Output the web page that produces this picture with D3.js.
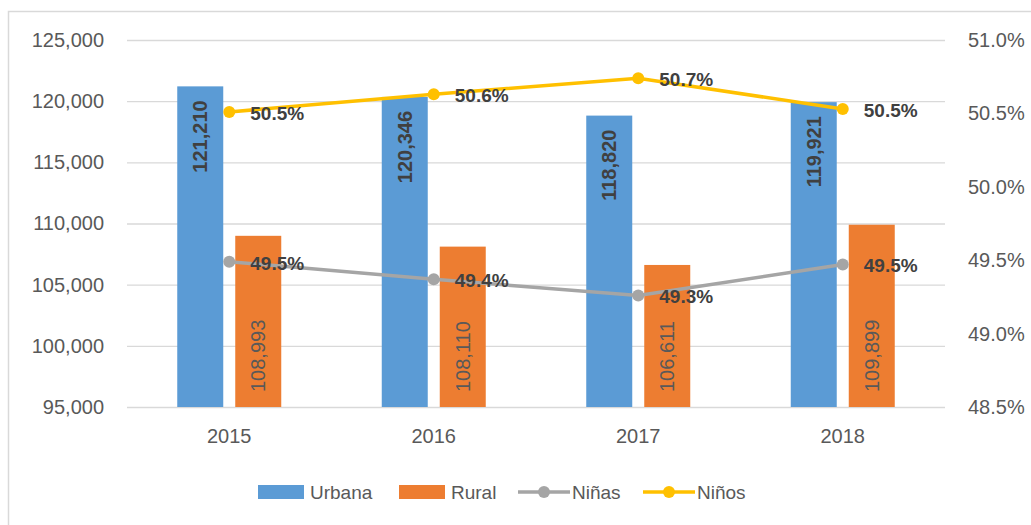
<!DOCTYPE html>
<html lang="es">
<head>
<meta charset="utf-8">
<script src="https://d3js.org/d3.v7.min.js"></script>
<style>
  body { margin: 0; background: #fff; }
  text { font-family: "Liberation Sans", Arial, sans-serif; }
</style>
</head>
<body>
<div id="graph"></div>
<script>
// data
var years = ["2015", "2016", "2017", "2018"];
var urbana = [121210, 120346, 118820, 119921];
var rural = [108993, 108110, 106611, 109899];
var ninas = [49.49, 49.37, 49.26, 49.47];
var ninos = [50.51, 50.63, 50.74, 50.53];
var leftTicks = [95000, 100000, 105000, 110000, 115000, 120000, 125000];
var rightTicks = [48.5, 49.0, 49.5, 50.0, 50.5, 51.0];

var W = 1031, H = 525;
var margin = {top: 40, right: 86, bottom: 118, left: 127},
    width = W - margin.left - margin.right,
    height = H - margin.top - margin.bottom;

var svg = d3.select("#graph")
  .append("svg")
    .attr("width", W)
    .attr("height", H);

// chart border
svg.append("rect")
    .attr("x", 8.5).attr("y", 11.5)
    .attr("width", W).attr("height", H)
    .attr("fill", "none")
    .attr("stroke", "#d9d9d9")
    .attr("stroke-width", 1.5);

var g = svg.append("g")
    .attr("transform", "translate(" + margin.left + "," + margin.top + ")");

// scales
var x0 = d3.scaleBand().domain(years).range([0, width]);
var x1 = d3.scaleBand().domain(["Urbana", "Rural"]).range([0, 104]).paddingInner(0.207);
var y = d3.scaleLinear().domain([95000, 125000]).range([height, 0]);
var y2 = d3.scaleLinear().domain([48.5, 51.0]).range([height, 0]);

// left axis + gridlines
var yAxis = g.append("g")
    .call(d3.axisLeft(y).tickValues(leftTicks).tickSize(-width).tickPadding(23)
      .tickFormat(d3.format(",")));
yAxis.select(".domain").remove();
yAxis.selectAll("line").attr("stroke", "#d9d9d9").attr("stroke-width", 1.3);
yAxis.selectAll("text").attr("fill", "#595959").style("font-size", "20px");

// right axis (labels only)
var y2Axis = g.append("g")
    .attr("transform", "translate(" + width + ",0)")
    .call(d3.axisRight(y2).tickValues(rightTicks).tickSize(0).tickPadding(23)
      .tickFormat(function(d) { return d3.format(".1f")(d) + "%"; }));
y2Axis.select(".domain").remove();
y2Axis.selectAll("text").attr("fill", "#595959").style("font-size", "20px");

// bottom axis (labels only)
var xAxis = g.append("g")
    .attr("transform", "translate(0," + height + ")")
    .call(d3.axisBottom(x0).tickSize(0).tickPadding(22));
xAxis.select(".domain").remove();
xAxis.selectAll("text").attr("fill", "#595959").style("font-size", "20px");

var color = {Urbana: "#5b9bd5", Rural: "#ed7d31", Ninas: "#a5a5a5", Ninos: "#ffc000"};

function groupX(i) {
  return x0(years[i]) + (x0.bandwidth() - 104) / 2;
}

// bars
var bars = years.map(function(yr, i) {
  return [{key: "Urbana", v: urbana[i], i: i}, {key: "Rural", v: rural[i], i: i}];
}).flat();

g.append("g").selectAll("rect")
  .data(bars)
  .enter().append("rect")
    .attr("x", function(d) { return groupX(d.i) + x1(d.key); })
    .attr("y", function(d) { return y(d.v); })
    .attr("width", x1.bandwidth())
    .attr("height", function(d) { return height - y(d.v); })
    .attr("fill", function(d) { return color[d.key]; });

// bar labels (rotated)
g.append("g").selectAll("text")
  .data(bars)
  .enter().append("text")
    .attr("transform", function(d) {
      var cx = groupX(d.i) + x1(d.key) + x1.bandwidth() / 2;
      var cy = d.key == "Urbana" ? y(d.v) + 14 : height - 15;
      return "translate(" + cx + "," + cy + ") rotate(-90)";
    })
    .attr("dy", "0.36em")
    .attr("text-anchor", function(d) { return d.key == "Urbana" ? "end" : "start"; })
    .attr("fill", function(d) { return d.key == "Urbana" ? "#404040" : "#595959"; })
    .style("font-weight", function(d) { return d.key == "Urbana" ? "bold" : "normal"; })
    .style("font-size", "20px")
    .text(function(d) { return d3.format(",")(d.v); });

// lines
var cx = function(d, i) { return x0(years[i]) + x0.bandwidth() / 2; };
var line = d3.line().x(cx).y(function(d) { return y2(d); });

[["Ninas", ninas], ["Ninos", ninos]].forEach(function(s) {
  var sg = g.append("g");
  sg.append("path")
      .datum(s[1])
      .attr("d", line)
      .attr("fill", "none")
      .attr("stroke", color[s[0]])
      .attr("stroke-width", 3.5)
      .attr("stroke-linecap", "round");
  sg.selectAll("circle")
    .data(s[1])
    .enter().append("circle")
      .attr("cx", cx)
      .attr("cy", function(d) { return y2(d); })
      .attr("r", 6)
      .attr("fill", color[s[0]]);
  sg.selectAll("text")
    .data(s[1])
    .enter().append("text")
      .attr("x", function(d, i) { return cx(d, i) + 21; })
      .attr("y", function(d) { return y2(d) + 1; })
      .attr("dy", "0.36em")
      .attr("fill", "#404040")
      .style("font-weight", "bold")
      .style("font-size", "19px")
      .text(function(d) { return d3.format(".1f")(d) + "%"; });
});

// legend
var legend = svg.append("g").attr("transform", "translate(0,492)");
var items = [
  {name: "Urbana", type: "rect", c: color.Urbana, x: 258},
  {name: "Rural", type: "rect", c: color.Rural, x: 399},
  {name: "Niñas", type: "line", c: color.Ninas, x: 518},
  {name: "Niños", type: "line", c: color.Ninos, x: 643}
];
items.forEach(function(it) {
  if (it.type == "rect") {
    legend.append("rect")
        .attr("x", it.x).attr("y", -7)
        .attr("width", 46).attr("height", 14)
        .attr("fill", it.c);
  } else {
    legend.append("line")
        .attr("x1", it.x).attr("x2", it.x + 52)
        .attr("y1", 0).attr("y2", 0)
        .attr("stroke", it.c).attr("stroke-width", 3.5);
    legend.append("circle")
        .attr("cx", it.x + 26).attr("cy", 0).attr("r", 6)
        .attr("fill", it.c);
  }
  legend.append("text")
      .attr("x", it.x + (it.type == "rect" ? 52 : 54))
      .attr("dy", "0.36em")
      .attr("fill", "#595959")
      .style("font-size", "19px")
      .text(it.name);
});
</script>
</body>
</html>
